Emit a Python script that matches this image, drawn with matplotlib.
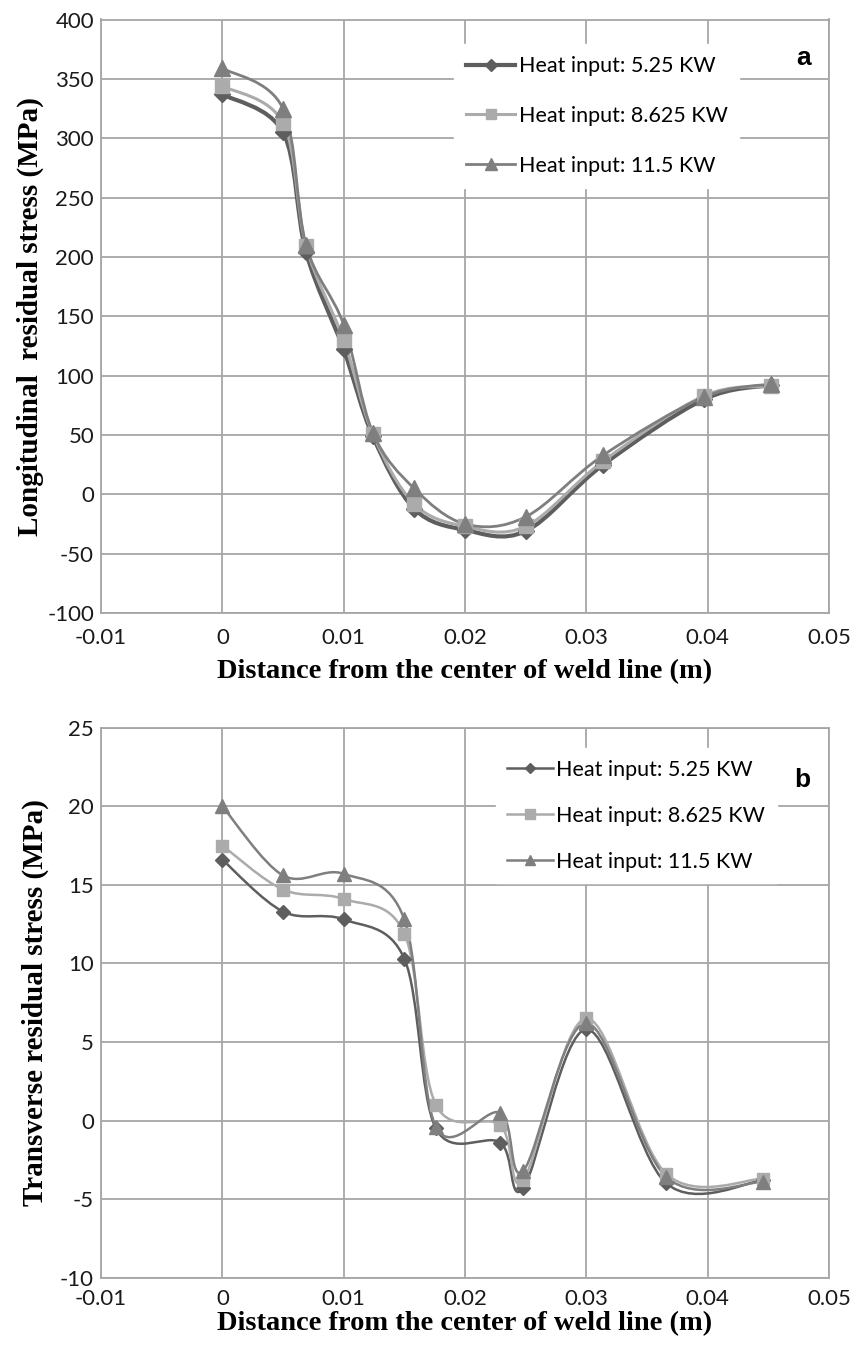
import matplotlib
matplotlib.use("Agg")
import matplotlib.pyplot as plt
import numpy as np
from matplotlib.path import Path
from matplotlib.patches import PathPatch
from matplotlib.lines import Line2D

# ---------------- data ----------------
series_labels = ["Heat input: 5.25 KW", "Heat input: 8.625 KW", "Heat input: 11.5 KW"]

x_long = [0.0, 0.005, 0.0069, 0.010, 0.0124, 0.0158, 0.020, 0.025, 0.0314, 0.0397, 0.0452]
long_525 = [337, 305, 204, 122, 49, -12, -30, -31, 25, 80, 92]
long_8625 = [344, 313, 209, 130, 51, -8, -27, -27, 28, 83, 91]
long_115 = [359, 325, 210, 143, 52, 5, -25, -19, 33, 82, 93]

x_trans = [0.0, 0.005, 0.010, 0.015, 0.0176, 0.0229, 0.0248, 0.030, 0.0366, 0.0446]
trans_525 = [16.6, 13.3, 12.8, 10.3, -0.5, -1.4, -4.3, 5.8, -4.0, -3.8]
trans_8625 = [17.5, 14.7, 14.1, 11.9, 1.0, -0.3, -3.8, 6.5, -3.4, -3.7]
trans_115 = [20.0, 15.6, 15.7, 12.8, -0.4, 0.5, -3.2, 6.2, -3.6, -3.9]

x_ticks = [-0.01, 0, 0.01, 0.02, 0.03, 0.04, 0.05]
x_ticklabels = ["-0.01", "0", "0.01", "0.02", "0.03", "0.04", "0.05"]
long_yticks = [-100, -50, 0, 50, 100, 150, 200, 250, 300, 350, 400]
trans_yticks = [-10, -5, 0, 5, 10, 15, 20, 25]

# ---------------- style ----------------
colors = ["#5e5e5e", "#ababab", "#7f7f7f"]
markers = ["D", "s", "^"]
grid_col = "#a6a6a6"
tick_font = "Lato"
label_font = "Liberation Serif"


def smooth_path(xs, ys):
    """Excel-like smoothed line (Catmull-Rom as cubic Bezier) in data coords."""
    pts = np.column_stack([xs, ys]).astype(float)
    n = len(pts)
    verts = [pts[0]]
    codes = [Path.MOVETO]
    for i in range(n - 1):
        p0 = pts[i - 1] if i > 0 else pts[i]
        p1 = pts[i]
        p2 = pts[i + 1]
        p3 = pts[i + 2] if i + 2 < n else pts[i + 1]
        c1 = p1 + (p2 - p0) / 6.0
        c2 = p2 - (p3 - p1) / 6.0
        verts += [c1, c2, p2]
        codes += [Path.CURVE4] * 3
    return Path(verts, codes)


def draw_panel(ax, xs, ys_list, lws, msizes, ylim, yticks, ylabel, letter, letter_y,
               leg_anchor, leg_spacing, handlelen, xpad, xlabelpad, ylabelpad):
    ax.set_xlim(-0.01, 0.05)
    ax.set_ylim(*ylim)
    ax.set_xticks(x_ticks)
    ax.set_xticklabels(x_ticklabels)
    ax.set_yticks(yticks)
    ax.set_yticklabels([str(v) for v in yticks])
    ax.grid(True, color=grid_col, linewidth=1.3)
    ax.set_axisbelow(True)
    for sp in ax.spines.values():
        sp.set_color(grid_col)
        sp.set_linewidth(1.3)
    ax.tick_params(axis="y", length=0, pad=5, labelsize=16, colors="#1a1a1a")
    ax.tick_params(axis="x", length=0, pad=xpad, labelsize=16, colors="#1a1a1a")
    for lab in ax.get_xticklabels() + ax.get_yticklabels():
        lab.set_fontfamily(tick_font)

    handles = []
    for ys, c, m, lw, ms, lab in zip(ys_list, colors, markers, lws, msizes, series_labels):
        patch = PathPatch(smooth_path(xs, ys), facecolor="none", edgecolor=c,
                          linewidth=lw, zorder=3, capstyle="round", joinstyle="round")
        ax.add_patch(patch)
        msz = ms * (0.8 if m == "D" else 1.0)
        ax.plot(xs, ys, linestyle="none", marker=m, markersize=msz,
                color=c, markeredgecolor=c, zorder=4)
        handles.append(Line2D([], [], color=c, linewidth=lw, marker=m,
                              markersize=msz * 0.75, markeredgecolor=c))

    leg = ax.legend(handles, series_labels, loc="upper left", bbox_to_anchor=leg_anchor,
                    frameon=True, fancybox=False, framealpha=1.0, edgecolor="white",
                    facecolor="white", labelspacing=leg_spacing, handlelength=handlelen,
                    handletextpad=0.15, borderpad=0.55, borderaxespad=0,
                    prop={"family": tick_font, "size": 15.5})
    leg.set_zorder(5)
    ax.text(0.975, letter_y, letter, transform=ax.transAxes,
            ha="right", va="center", fontsize=19, fontweight="bold",
            family="Liberation Sans", zorder=6)

    ax.set_ylabel(ylabel, fontsize=21, fontweight="bold", family=label_font,
                  labelpad=ylabelpad)
    ax.set_xlabel("Distance from the center of weld line (m)", fontsize=20.5,
                  fontweight="bold", family=label_font, labelpad=xlabelpad)


fig = plt.figure(figsize=(8.64, 13.45), dpi=100)
ax1 = fig.add_axes([101 / 864, 1 - 613 / 1345, 728 / 864, 593.5 / 1345])
ax2 = fig.add_axes([101 / 864, 1 - 1277.7 / 1345, 728 / 864, 550 / 1345])

draw_panel(ax1, x_long, [long_525, long_8625, long_115], [3.0, 2.2, 2.0], [10, 10, 11],
           (-100, 400), long_yticks, "Longitudinal  residual stress (MPa)", "a", 0.935,
           (0.485, 0.958), 1.38, 2.3, 11, 8, 2)
draw_panel(ax2, x_trans, [trans_525, trans_8625, trans_115], [1.8, 1.8, 1.8], [9, 9, 10],
           (-10, 25), trans_yticks, "Transverse residual stress (MPa)", "b", 0.905,
           (0.542, 0.963), 1.2, 2.1, 8, 1.5, 8)

fig.savefig("out.png", dpi=100)
